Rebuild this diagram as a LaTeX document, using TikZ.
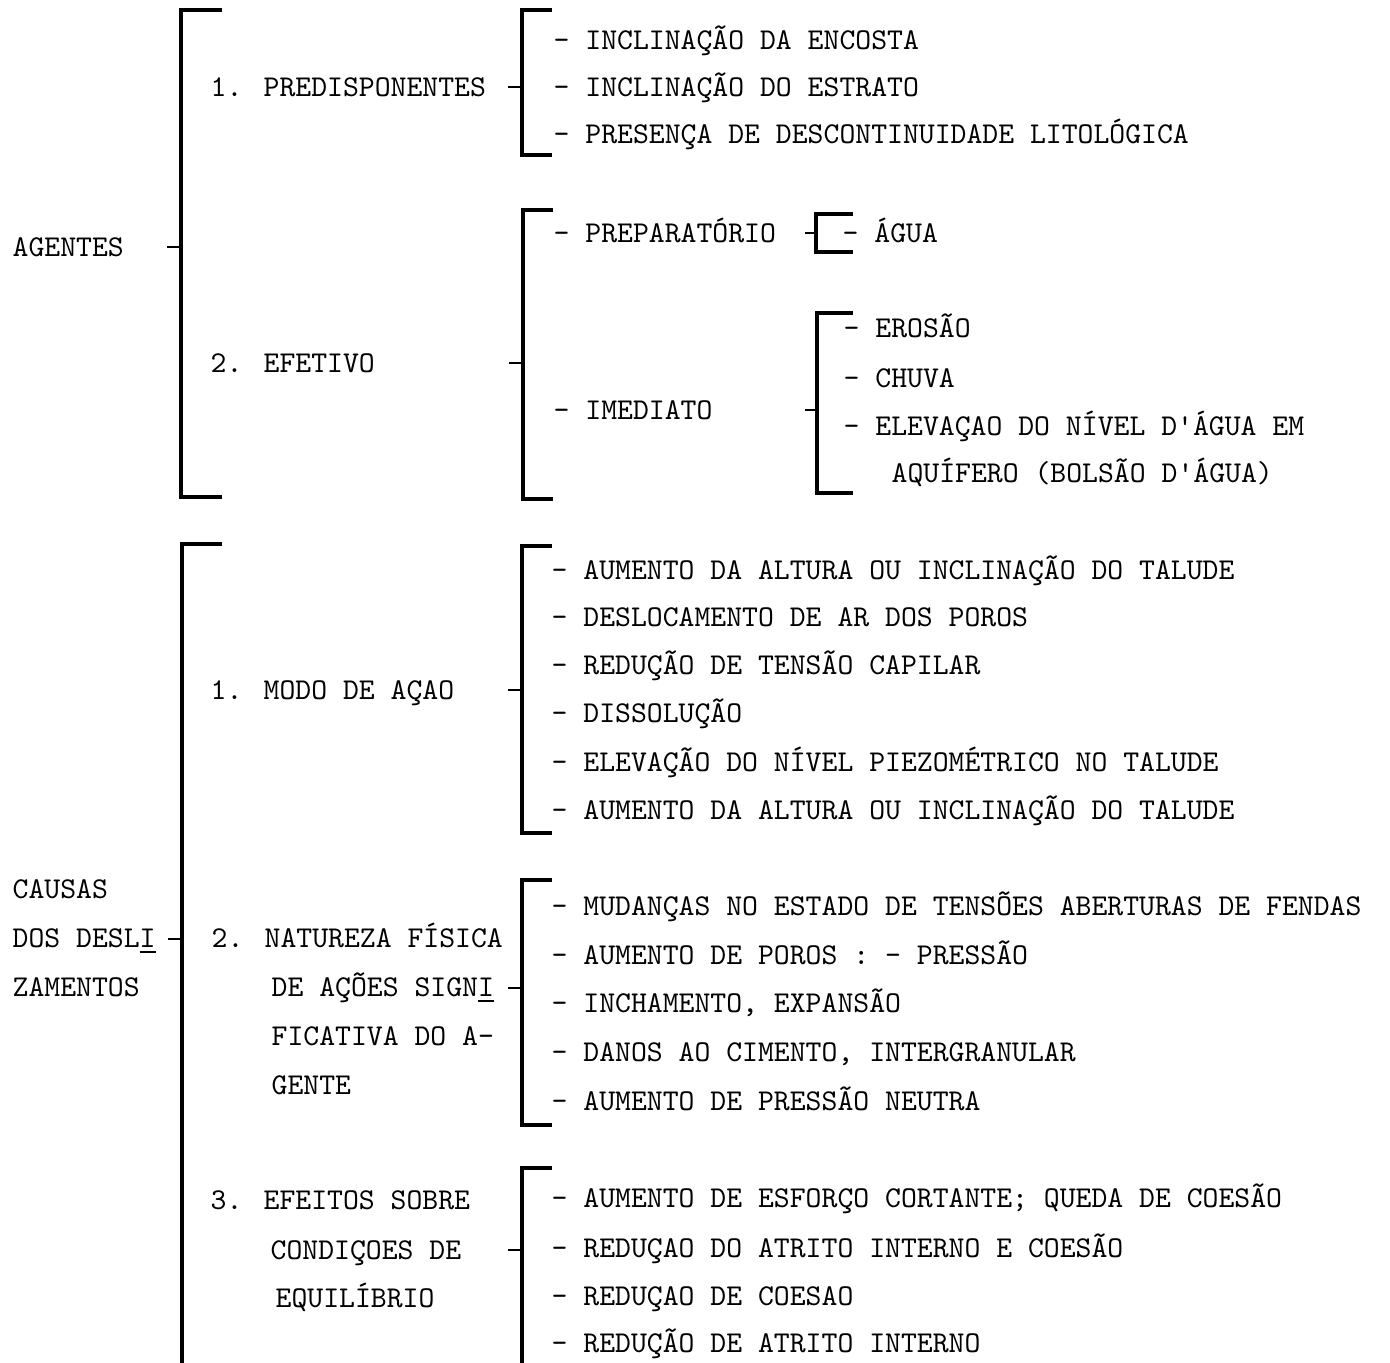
\documentclass[tikz,border=0pt]{standalone}
\usepackage{fontspec}
\newfontfamily\typew{lmmono10-regular.otf}
\usetikzlibrary{calc}

\tikzset{
  lbl/.style={anchor=base west,inner sep=0pt,font={\typew\fontsize{8.6}{10}\selectfont}},
  brk/.style={line width=1pt},
  tck/.style={line width=0.7pt}
}

\begin{document}
\begin{tikzpicture}[x=0.01cm,y=-0.01cm]
\useasboundingbox (0,0) rectangle (1390,1363);

% agentes
\node[lbl] (agentes) at (12,256) {AGENTES};
\coordinate (agT) at (181,10);
\coordinate (agB) at (181,497);
\coordinate (agM) at (181,247);
\draw[brk] ($(agT)+(41,0)$) -- (agT) -- (agB) -- ++(41,0);
\draw[tck] (agM) -- ++(-14,0);

% 1. predisponentes
\node[lbl] (predisp) at (210,96) {1. PREDISPONENTES};
\coordinate (preT) at (522,10);
\coordinate (preB) at (522,155);
\coordinate (preM) at (522,87);
\draw[brk] ($(preT)+(30,0)$) -- (preT) -- (preB) -- ++(30,0);
\draw[tck] (preM) -- ++(-14,0);
\node[lbl] (pre1) at (553,49) {- INCLINAÇÃO DA ENCOSTA};
\node[lbl] (pre2) at (553,96) {- INCLINAÇÃO DO ESTRATO};
\node[lbl] (pre3) at (553,143) {- PRESENÇA DE DESCONTINUIDADE LITOLÓGICA};

% 2. efetivo
\node[lbl] (efetivo) at (210,372) {2. EFETIVO};
\coordinate (efT) at (523,210);
\coordinate (efB) at (523,499);
\coordinate (efM) at (523,363);
\draw[brk] ($(efT)+(30,0)$) -- (efT) -- (efB) -- ++(30,0);
\draw[tck] (efM) -- ++(-14,0);
\node[lbl] (prep) at (553,242) {- PREPARATÓRIO};
\node[lbl] (imed) at (553,419) {- IMEDIATO};

\coordinate (agT2) at (816,214);
\coordinate (agB2) at (816,252);
\coordinate (agM2) at (816,233);
\draw[brk] ($(agT2)+(37,0)$) -- (agT2) -- (agB2) -- ++(37,0);
\draw[tck] (agM2) -- ++(-11,0);
\node[lbl] (agua) at (842,242) {- ÁGUA};

\coordinate (imT) at (817,313);
\coordinate (imB) at (817,493);
\coordinate (imM) at (817,410);
\draw[brk] ($(imT)+(36,0)$) -- (imT) -- (imB) -- ++(36,0);
\draw[tck] (imM) -- ++(-12,0);
\node[lbl] (im1) at (843,337) {- EROSÃO};
\node[lbl] (im2) at (843,387) {- CHUVA};
\node[lbl] (im3) at (843,435) {- ELEVAÇAO DO NÍVEL D'ÁGUA EM};
\node[lbl] (im4) at (891,482) {AQUÍFERO (BOLSÃO D'ÁGUA)};

% causas
\node[lbl] (cau1) at (12,898) {CAUSAS};
\node[lbl] (cau2) at (12,947) {DOS DESL\underline{I}};
\node[lbl] (cau3) at (12,996) {ZAMENTOS};
\coordinate (caT) at (182,544);
\coordinate (caB) at (182,1366);
\coordinate (caM) at (182,939);
\draw[brk] ($(caT)+(40,0)$) -- (caT) -- (caB);
\draw[tck] (caM) -- ++(-14,0);

% 1. modo de acao
\node[lbl] (modo) at (210,699) {1. MODO DE AÇAO};
\coordinate (moT) at (522,546);
\coordinate (moB) at (522,833);
\coordinate (moM) at (522,690);
\draw[brk] ($(moT)+(30,0)$) -- (moT) -- (moB) -- ++(30,0);
\draw[tck] (moM) -- ++(-14,0);
\node[lbl] (mo1) at (551,579) {- AUMENTO DA ALTURA OU INCLINAÇÃO DO TALUDE};
\node[lbl] (mo2) at (551,626) {- DESLOCAMENTO DE AR DOS POROS};
\node[lbl] (mo3) at (551,674) {- REDUÇÃO DE TENSÃO CAPILAR};
\node[lbl] (mo4) at (551,722) {- DISSOLUÇÃO};
\node[lbl] (mo5) at (551,771) {- ELEVAÇÃO DO NÍVEL PIEZOMÉTRICO NO TALUDE};
\node[lbl] (mo6) at (551,819) {- AUMENTO DA ALTURA OU INCLINAÇÃO DO TALUDE};

% 2. natureza fisica
\node[lbl] (nat1) at (211,947) {2. NATUREZA FÍSICA};
\node[lbl] (nat2) at (271,996) {DE AÇÕES SIGN\underline{I}};
\node[lbl] (nat3) at (271,1045) {FICATIVA DO A-};
\node[lbl] (nat4) at (271,1094) {GENTE};
\coordinate (naT) at (522,880);
\coordinate (naB) at (522,1125);
\coordinate (naM) at (522,988);
\draw[brk] ($(naT)+(30,0)$) -- (naT) -- (naB) -- ++(30,0);
\draw[tck] (naM) -- ++(-14,0);
\node[lbl] (na1) at (551,915) {- MUDANÇAS NO ESTADO DE TENSÕES ABERTURAS DE FENDAS};
\node[lbl] (na2) at (551,964) {- AUMENTO DE POROS : - PRESSÃO};
\node[lbl] (na3) at (551,1012) {- INCHAMENTO, EXPANSÃO};
\node[lbl] (na4) at (551,1061) {- DANOS AO CIMENTO, INTERGRANULAR};
\node[lbl] (na5) at (551,1110) {- AUMENTO DE PRESSÃO NEUTRA};

% 3. efeitos
\node[lbl] (efe1) at (210,1209) {3. EFEITOS SOBRE};
\node[lbl] (efe2) at (270,1259) {CONDIÇOES DE};
\node[lbl] (efe3) at (275,1307) {EQUILÍBRIO};
\coordinate (eqT) at (522,1168);
\coordinate (eqB) at (522,1366);
\coordinate (eqM) at (522,1250);
\draw[brk] ($(eqT)+(30,0)$) -- (eqT) -- (eqB);
\draw[tck] (eqM) -- ++(-14,0);
\node[lbl] (eq1) at (551,1207) {- AUMENTO DE ESFORÇO CORTANTE; QUEDA DE COESÃO};
\node[lbl] (eq2) at (551,1257) {- REDUÇAO DO ATRITO INTERNO E COESÃO};
\node[lbl] (eq3) at (551,1305) {- REDUÇAO DE COESAO};
\node[lbl] (eq4) at (551,1352) {- REDUÇÃO DE ATRITO INTERNO};

\end{tikzpicture}
\end{document}
